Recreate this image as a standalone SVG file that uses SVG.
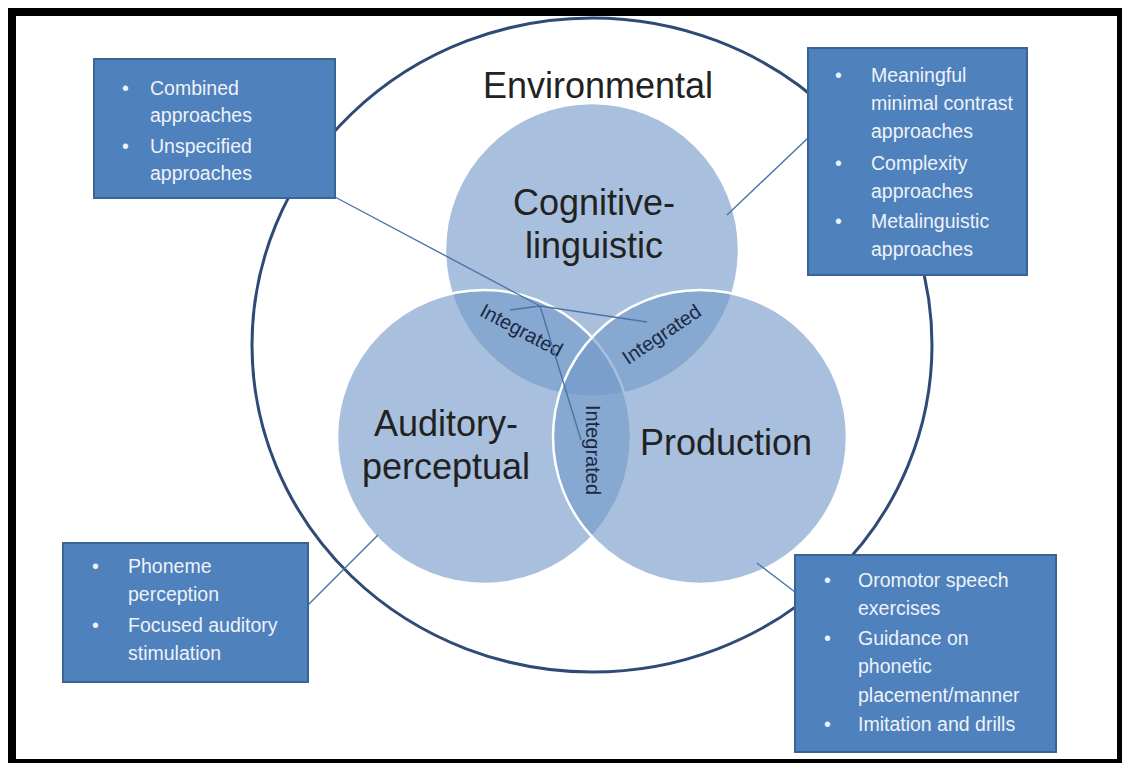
<svg xmlns="http://www.w3.org/2000/svg" width="1122" height="763" viewBox="0 0 1122 763">
<style>
.big{font-family:"Liberation Sans",Arial,sans-serif;font-size:36px;fill:#222;text-anchor:middle}
.int{font-family:"Liberation Sans",Arial,sans-serif;font-size:20px;fill:#1b2a44;text-anchor:middle}
.box{fill:#4f81bd;stroke:#3a6494;stroke-width:2}
.bt{font-family:"Liberation Sans",Arial,sans-serif;font-size:19.5px;fill:#eef2f9}
.circ{fill:#7299ca;fill-opacity:0.62;stroke:#fff;stroke-width:2.5}
.con{stroke:#4a74a8;stroke-width:1.4;fill:none}
</style>
<rect x="0" y="0" width="1122" height="763" fill="#fff"/>
<rect x="8" y="8" width="1114" height="755" fill="#000"/>
<rect x="16" y="16" width="1101" height="743" fill="#fff"/>

<g id="environmental">
<ellipse cx="592" cy="345" rx="340" ry="327" fill="none" stroke="#2f4b75" stroke-width="3"/>
<text class="big" x="598" y="98" font-size="35">Environmental</text>
</g>

<g id="cognitive-linguistic">
<circle class="circ" cx="592" cy="250" r="147"/>
</g>
<g id="auditory-perceptual">
<circle class="circ" cx="484" cy="437" r="147"/>
</g>
<g id="production">
<circle class="circ" cx="700" cy="437" r="147"/>
</g>

<g id="labels">
<text class="big" x="594" y="215">Cognitive-</text>
<text class="big" x="594" y="258">linguistic</text>
<text class="big" x="446" y="436">Auditory-</text>
<text class="big" x="446" y="479">perceptual</text>
<text class="big" x="726" y="455">Production</text>
</g>

<g id="integrated-left" transform="translate(521,331) rotate(28)">
<text class="int" x="0" y="6">Integrated</text>
</g>
<g id="integrated-right" transform="translate(662,335) rotate(-34)">
<text class="int" x="0" y="6">Integrated</text>
</g>
<g id="integrated-bottom" transform="translate(592,450) rotate(90)">
<text class="int" x="0" y="6">Integrated</text>
</g>

<g id="connectors">
<path class="con" d="M335,197 L540,306 M540,306 L510,310 M540,306 L647,322 M540,306 L581,440"/>
<path class="con" d="M808,138 L727,215"/>
<path class="con" d="M308,605 L378,535"/>
<path class="con" d="M795,592 L757,563"/>
</g>

<g id="box-integrated">
<rect class="box" x="94" y="59" width="241" height="139"/>
<text class="bt" x="122" y="95">•</text>
<text class="bt" x="150" y="95">Combined</text>
<text class="bt" x="150" y="122">approaches</text>
<text class="bt" x="122" y="153">•</text>
<text class="bt" x="150" y="153">Unspecified</text>
<text class="bt" x="150" y="180">approaches</text>
</g>

<g id="box-cognitive">
<rect class="box" x="808" y="48" width="219" height="227"/>
<text class="bt" x="835" y="82">•</text>
<text class="bt" x="871" y="82">Meaningful</text>
<text class="bt" x="871" y="110">minimal contrast</text>
<text class="bt" x="871" y="138">approaches</text>
<text class="bt" x="835" y="170">•</text>
<text class="bt" x="871" y="170">Complexity</text>
<text class="bt" x="871" y="198">approaches</text>
<text class="bt" x="835" y="228">•</text>
<text class="bt" x="871" y="228">Metalinguistic</text>
<text class="bt" x="871" y="256">approaches</text>
</g>

<g id="box-auditory">
<rect class="box" x="63" y="543" width="245" height="139"/>
<text class="bt" x="92" y="573">•</text>
<text class="bt" x="128" y="573">Phoneme</text>
<text class="bt" x="128" y="601">perception</text>
<text class="bt" x="92" y="632">•</text>
<text class="bt" x="128" y="632">Focused auditory</text>
<text class="bt" x="128" y="660">stimulation</text>
</g>

<g id="box-production">
<rect class="box" x="795" y="555" width="261" height="197"/>
<text class="bt" x="824" y="587">•</text>
<text class="bt" x="858" y="587">Oromotor speech</text>
<text class="bt" x="858" y="615">exercises</text>
<text class="bt" x="824" y="645">•</text>
<text class="bt" x="858" y="645">Guidance on</text>
<text class="bt" x="858" y="673">phonetic</text>
<text class="bt" x="858" y="702">placement/manner</text>
<text class="bt" x="824" y="731">•</text>
<text class="bt" x="858" y="731">Imitation and drills</text>
</g>
</svg>
